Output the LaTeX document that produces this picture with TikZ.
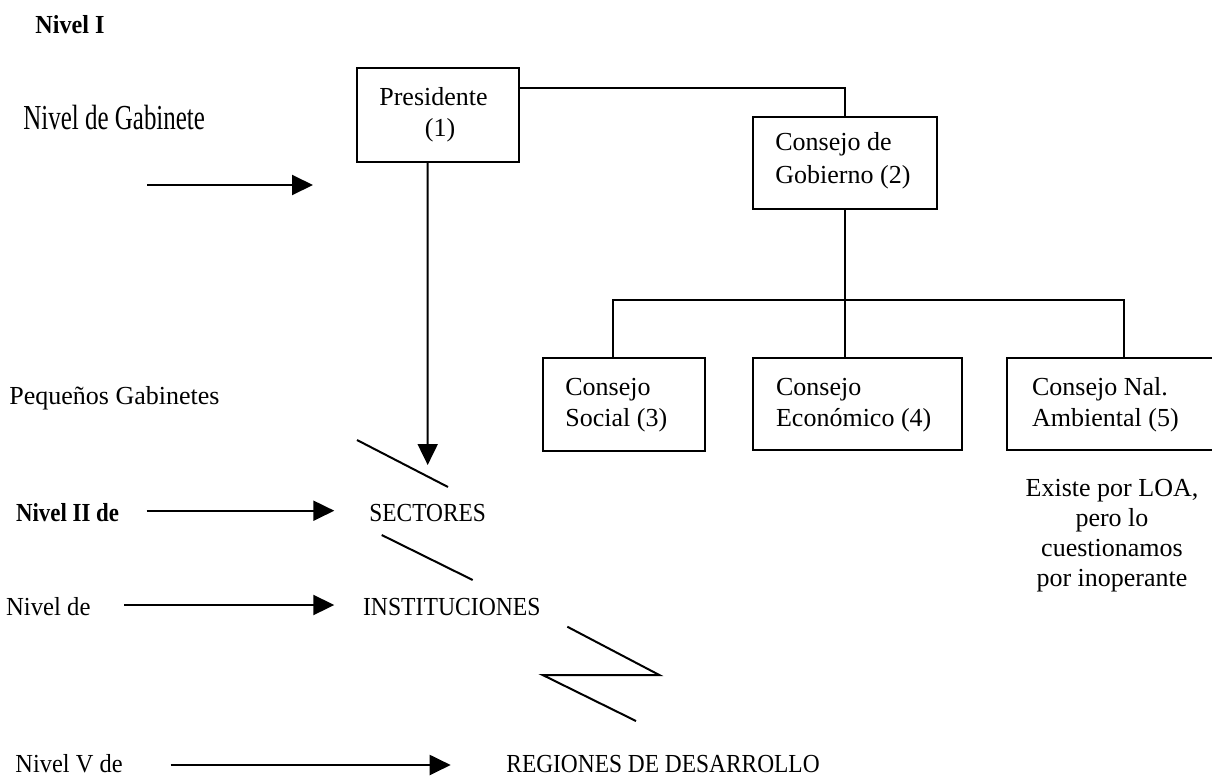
\documentclass[tikz,border=0pt]{standalone}
\usepackage{fontspec}
\setmainfont{Liberation Serif}
\usepackage{graphicx}
\usetikzlibrary{arrows.meta}

\tikzset{
  every node/.style={font=\fontsize{13pt}{15.5pt}\selectfont},
  orgbox/.style={draw, line width=1pt, inner sep=0pt},
  txt/.style={anchor=base west, inner sep=0pt},
  ctxt/.style={anchor=base, inner sep=0pt},
  link/.style={line width=1pt},
  flow/.style={line width=1pt, -{Triangle[length=10.5pt, width=10pt]}},
}

\begin{document}
\begin{tikzpicture}[x=0.5pt, y=-0.5pt]
  \useasboundingbox (0,0) rectangle (1212,778);
  \clip (0,0) rectangle (1212,778);

  % boxes of the council structure
  \node[orgbox, minimum width=81pt,   minimum height=47pt] (pres) at (438,115) {};
  \node[orgbox, minimum width=92pt,   minimum height=46pt] (gob)  at (845,163) {};
  \node[orgbox, minimum width=81pt,   minimum height=46.5pt] (soc) at (624,404.5) {};
  \node[orgbox, minimum width=104.5pt, minimum height=46pt] (econ) at (857.5,404) {};
  \node[orgbox, minimum width=116.5pt, minimum height=46pt] (amb) at (1123.5,404) {};

  % box texts
  \node[ctxt] (presA) at (433.5,105.7) {Presidente};
  \node[ctxt] (presB) at (440,136.7) {(1)};
  \node[txt] (gobA) at (775,150.7) {Consejo de};
  \node[txt] (gobB) at (775,183.3) {Gobierno (2)};
  \node[txt] (socA) at (565,395) {Consejo};
  \node[txt] (socB) at (565,426.7) {Social (3)};
  \node[txt] (econA) at (775.7,395) {Consejo};
  \node[txt] (econB) at (775.7,426.7) {Económico (4)};
  \node[txt] (ambA) at (1031.7,395) {Consejo Nal.};
  \node[txt] (ambB) at (1031.7,426.7) {Ambiental (5)};

  % remark under the environmental council
  \node[ctxt] (noteA) at (1112,496.7) {Existe por LOA,};
  \node[ctxt] (noteB) at (1112,526.7) {pero lo};
  \node[ctxt] (noteC) at (1112,556.7) {cuestionamos};
  \node[ctxt] (noteD) at (1112,586.7) {por inoperante};

  % level labels
  \node[txt] (lvI) at (35,33) {\scalebox{0.93}[1]{\bfseries Nivel I}};
  \node[txt] (lvGab) at (23,129) {\scalebox{0.96}[1.35]{Nivel de Gabinete}};
  \node[txt] (lvPeq) at (9,404) {Pequeños Gabinetes};
  \node[txt] (lvII) at (15.7,521) {\scalebox{0.88}[1]{\bfseries Nivel II de}};
  \node[txt] (lvIns) at (5.7,615) {\scalebox{0.95}[1]{Nivel de}};
  \node[txt] (lvV) at (15,772) {\scalebox{0.94}[1]{Nivel V de}};

  \node[txt] (sect) at (369,521.7) {\scalebox{0.9}[1]{SECTORES}};
  \node[txt] (inst) at (362.7,615) {\scalebox{0.91}[1]{INSTITUCIONES}};
  \node[txt] (reg) at (506,772) {\scalebox{0.9}[1]{REGIONES DE DESARROLLO}};

  % arrow end points
  \coordinate (a1s) at (147,185);   \coordinate (a1e) at (313,185);
  \coordinate (a2s) at (146.7,510.7); \coordinate (a2e) at (334.3,510.7);
  \coordinate (a3s) at (124.3,605); \coordinate (a3e) at (334.3,605);
  \coordinate (a4s) at (170.7,765); \coordinate (a4e) at (450.7,765);
  \coordinate (sectip) at (427.7,465);
  \coordinate (bus) at (845,300);

  % break marks between the levels
  \coordinate (b1s) at (357,440);   \coordinate (b1e) at (448,487);
  \coordinate (b2s) at (381.7,535); \coordinate (b2e) at (472.7,580);
  \coordinate (z1) at (567.3,626.7); \coordinate (z2) at (659.3,675);
  \coordinate (z3) at (542.7,675);   \coordinate (z4) at (636,721);

  % connectors
  \draw[link] ([yshift=13.35pt]pres.east) -| (gob.north);
  \draw[link] (gob.south) -- (bus);
  \draw[link] (bus) -- (bus |- econ.north);
  \draw[link] ([xshift=-5.65pt]soc.north) |- (bus) -| (amb.north);
  \draw[flow] ([xshift=-5.15pt]pres.south) -- (sectip);

  \draw[flow] (a1s) -- (a1e);
  \draw[flow] (a2s) -- (a2e);
  \draw[flow] (a3s) -- (a3e);
  \draw[flow] (a4s) -- (a4e);

  \draw[link] (b1s) -- (b1e);
  \draw[link] (b2s) -- (b2e);
  \draw[link] (z1) -- (z2) -- (z3) -- (z4);
\end{tikzpicture}
\end{document}
